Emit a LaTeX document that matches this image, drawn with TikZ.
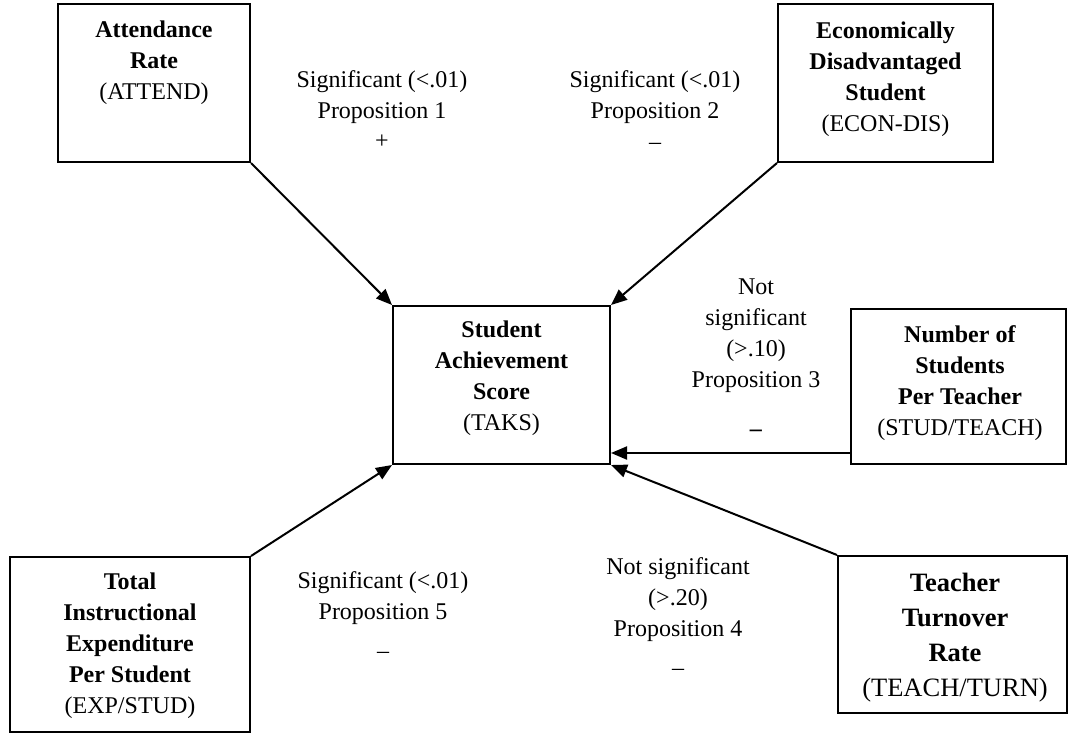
\documentclass[tikz,border=0pt]{standalone}
\usepackage{fontspec}
\setmainfont{Liberation Serif}
\usetikzlibrary{arrows.meta}
\tikzset{
  box/.style={draw, line width=2pt, rectangle, inner sep=0pt},
  txt/.style={align=center, inner sep=0pt, font=\fontsize{24}{31}\selectfont},
  bigtxt/.style={align=center, inner sep=0pt, font=\fontsize{26.5}{35}\selectfont},
  arr/.style={line width=2pt, -{Triangle[length=16pt,width=13pt]}}
}
\begin{document}
\begin{tikzpicture}[x=1pt,y=-1pt]
\useasboundingbox (0,0) rectangle (1070,734);
% boxes
\node[box, minimum width=192pt, minimum height=158pt] (att) at (154,83) {};
\node[box, minimum width=215pt, minimum height=158pt] (econ) at (885.5,83) {};
\node[box, minimum width=217pt, minimum height=158pt] (ctr) at (501.5,385) {};
\node[box, minimum width=215pt, minimum height=155pt] (num) at (958.5,386.5) {};
\node[box, minimum width=229pt, minimum height=157pt] (turn) at (952.5,634.5) {};
\node[box, minimum width=240pt, minimum height=175pt] (exp) at (130,644.5) {};
% box texts
\node[txt] (attT) at (154,62.5) {\textbf{Attendance}\\\textbf{Rate}\\(ATTEND)};
\node[txt] (econT) at (885.5,79.5) {\textbf{Economically}\\\textbf{Disadvantaged}\\\textbf{Student}\\(ECON-DIS)};
\node[txt] (ctrT) at (501.5,378) {\textbf{Student}\\\textbf{Achievement}\\\textbf{Score}\\(TAKS)};
\node[txt] (numT) at (960,383) {\textbf{Number of}\\\textbf{Students}\\\textbf{Per Teacher}\\(STUD/TEACH)};
\node[txt] (expT) at (130,646) {\textbf{Total}\\\textbf{Instructional}\\\textbf{Expenditure}\\\textbf{Per Student}\\(EXP/STUD)};
\node[bigtxt] (turnT) at (955,637.5) {\textbf{Teacher}\\\textbf{Turnover}\\\textbf{Rate}\\(TEACH/TURN)};
% labels
\node[txt] (p1) at (382,97.5) {Significant (<.01)\\Proposition 1};
\node[txt] (p1s) at (382,142) {+};
\node[txt] (p2) at (655,97.5) {Significant (<.01)\\Proposition 2};
\node[txt] (p2s) at (655,146) {--};
\node[txt] (p3) at (756,335.5) {Not\\significant\\(>.10)\\Proposition 3};
\node[txt] (p3s) at (756,433) {\textbf{--}};
\node[txt] (p5) at (383,598) {Significant (<.01)\\Proposition 5};
\node[txt] (p5s) at (383,655) {--};
\node[txt] (p4) at (678,600) {Not significant\\(>.20)\\Proposition 4};
\node[txt] (p4s) at (678,672) {--};
% arrows
\coordinate (ya) at (0,453);
\draw[arr] (att.south east) -- (ctr.north west);
\draw[arr] (econ.south west) -- (ctr.north east);
\draw[arr] (num.west |- ya) -- (ctr.east |- ya);
\draw[arr] (turn.north west) -- (ctr.south east);
\draw[arr] (exp.north east) -- (ctr.south west);
\end{tikzpicture}
\end{document}
